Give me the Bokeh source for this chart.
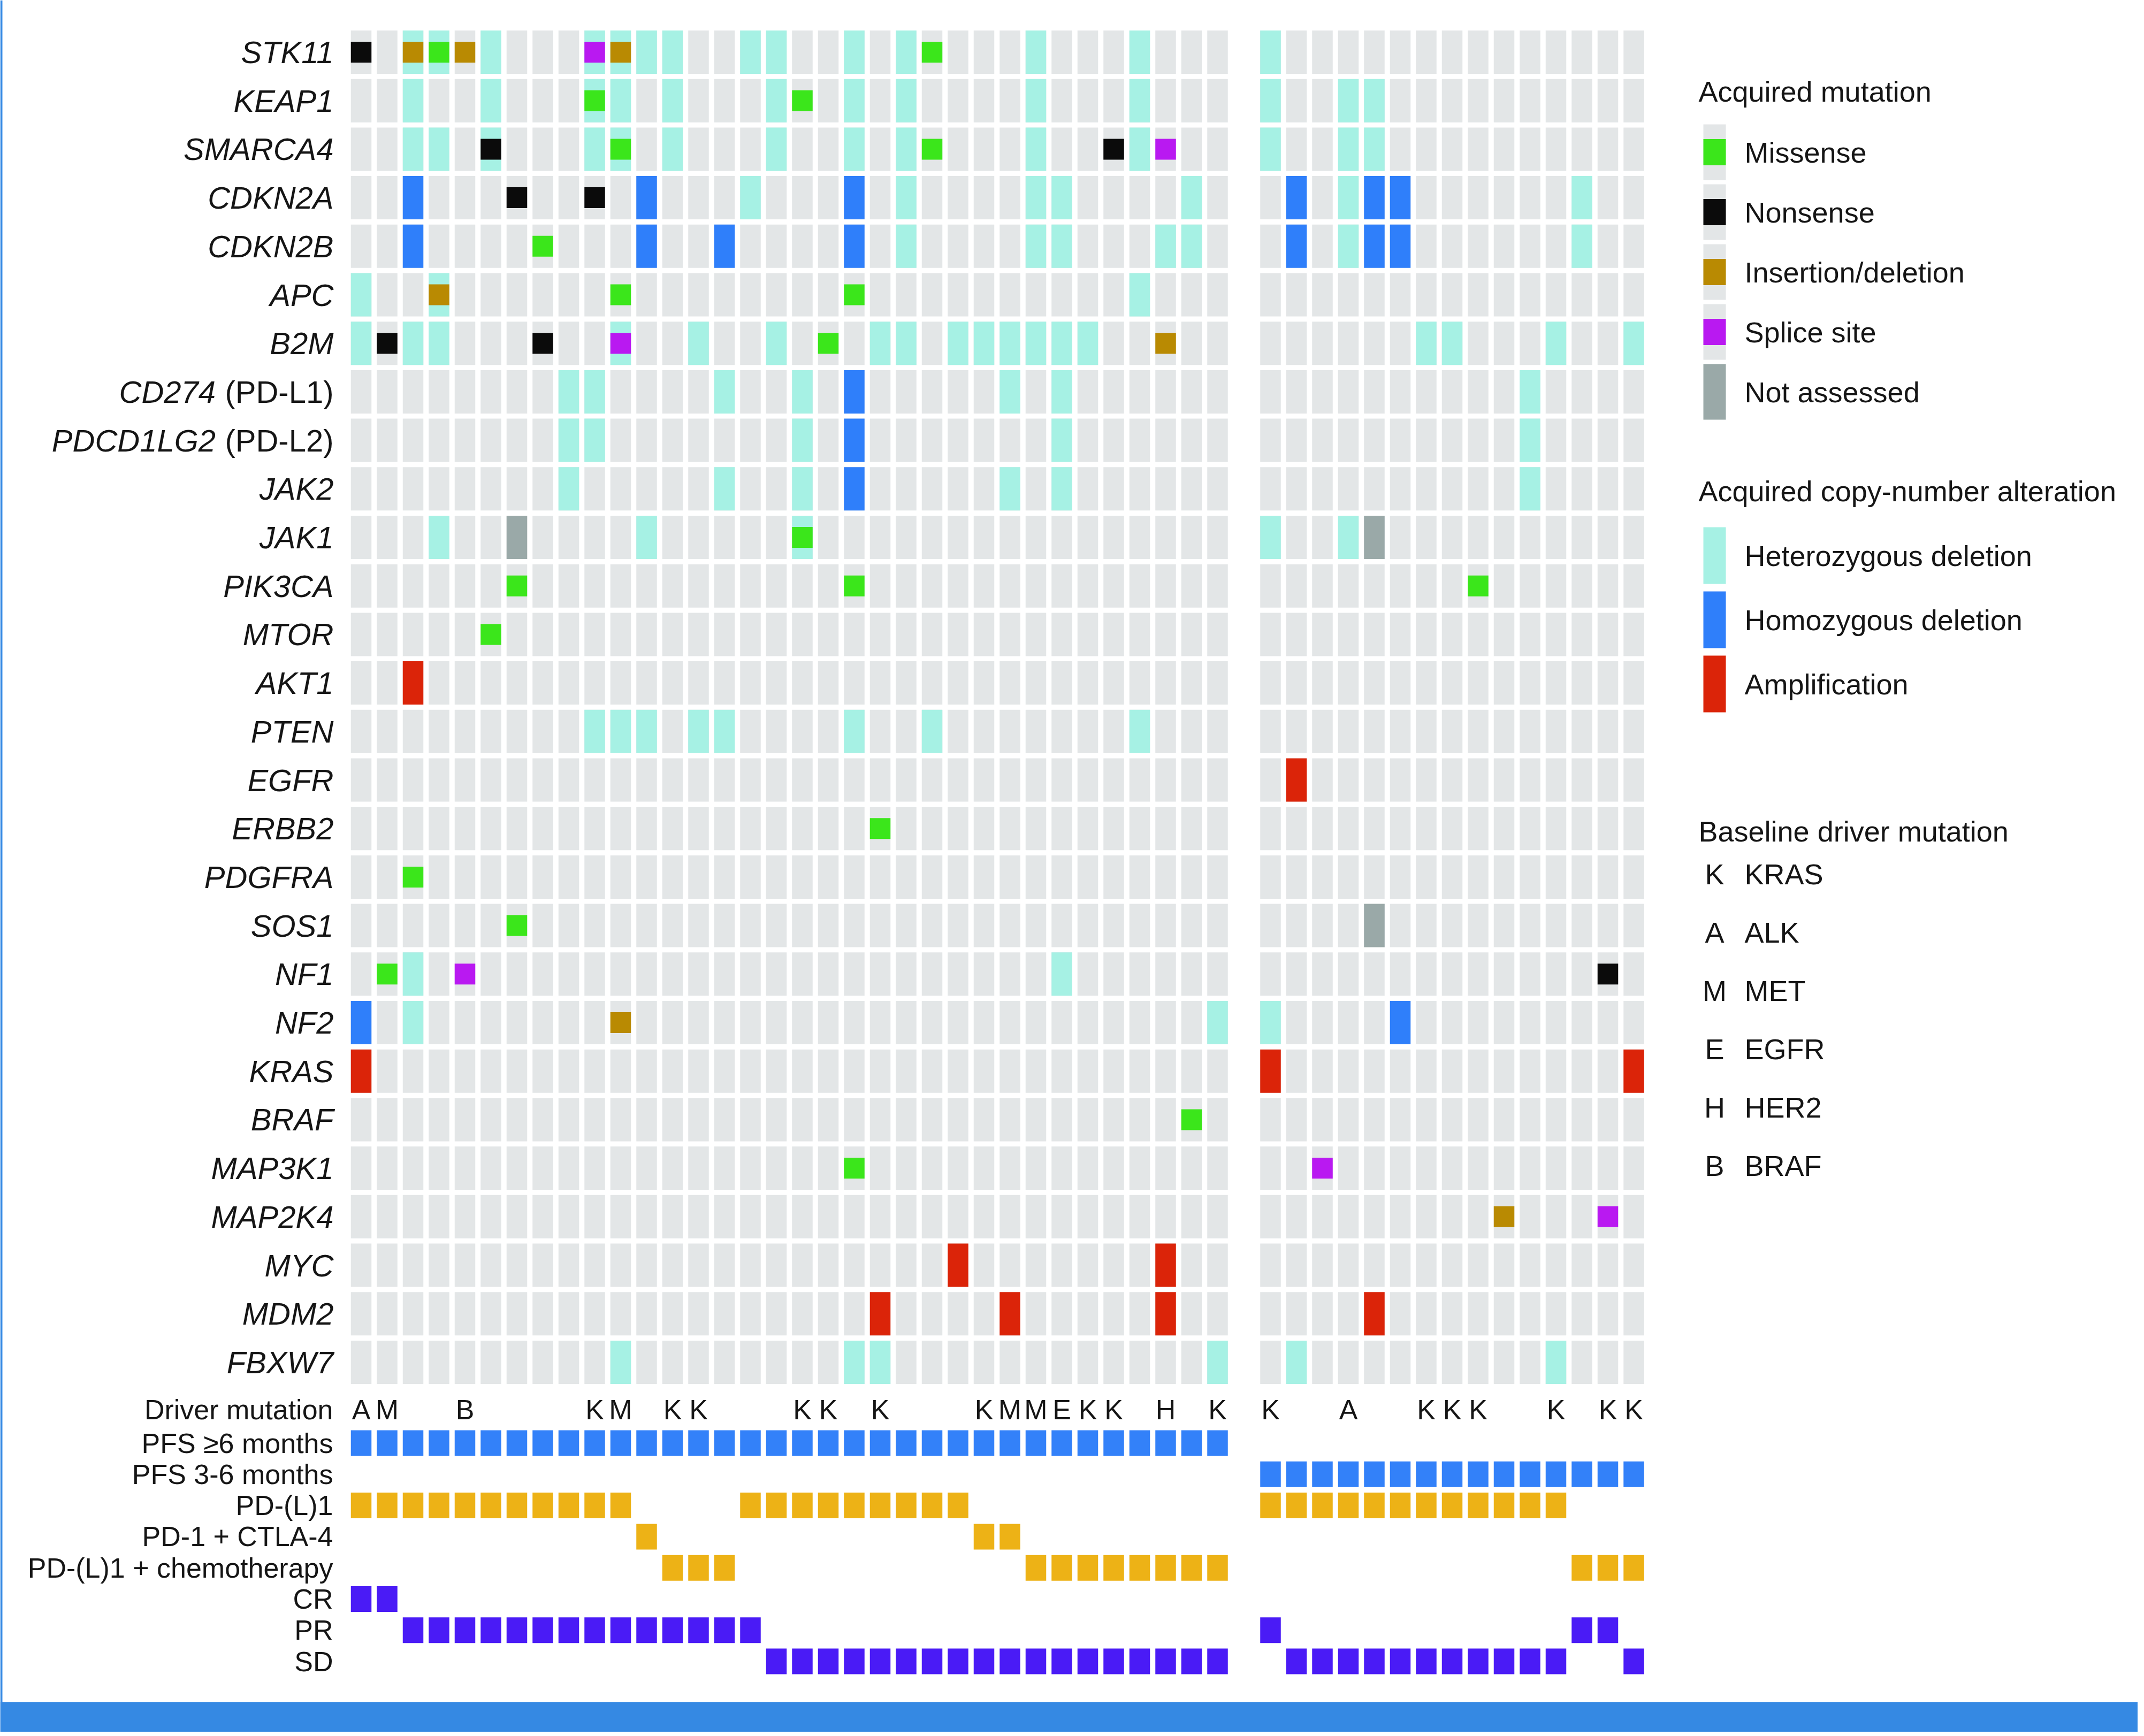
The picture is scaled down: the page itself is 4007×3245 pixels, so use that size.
from bokeh.plotting import figure
from bokeh.models import ColumnDataSource, Range1d
from bokeh.embed import file_html
from bokeh.resources import INLINE
from bokeh.core.properties import value

# ---------------- data ----------------
GENES = ["STK11", "KEAP1", "SMARCA4", "CDKN2A", "CDKN2B", "APC", "B2M", "CD274",
         "PDCD1LG2", "JAK2", "JAK1", "PIK3CA", "MTOR", "AKT1", "PTEN", "EGFR",
         "ERBB2", "PDGFRA", "SOS1", "NF1", "NF2", "KRAS", "BRAF", "MAP3K1",
         "MAP2K4", "MYC", "MDM2", "FBXW7"]
GENE_SUFFIX = {"CD274": "(PD-L1)", "PDCD1LG2": "(PD-L2)"}
N_G1 = 34
N_G2 = 15

# group 1 (PFS >= 6 months): column indices per gene
G1_HET = {"STK11": [2, 3, 5, 9, 10, 11, 12, 15, 16, 19, 21, 26, 30],
          "KEAP1": [2, 5, 9, 10, 12, 16, 19, 21, 26, 30],
          "SMARCA4": [2, 3, 5, 9, 10, 12, 16, 19, 21, 26, 30],
          "CDKN2A": [15, 21, 26, 27, 32],
          "CDKN2B": [21, 26, 27, 31, 32],
          "APC": [0, 3, 30],
          "B2M": [0, 2, 3, 10, 13, 16, 20, 21, 23, 24, 25, 26, 27, 28],
          "CD274": [8, 9, 14, 17, 25, 27],
          "PDCD1LG2": [8, 9, 17, 27],
          "JAK2": [8, 14, 17, 25, 27],
          "JAK1": [3, 11, 17],
          "PTEN": [9, 10, 11, 13, 14, 19, 22, 30],
          "NF1": [2, 27],
          "NF2": [2, 33],
          "FBXW7": [10, 19, 20, 33]}
G1_HOM = {"CDKN2A": [2, 11, 19], "CDKN2B": [2, 11, 14, 19], "CD274": [19],
          "PDCD1LG2": [19], "JAK2": [19], "NF2": [0]}
G1_AMP = {"AKT1": [2], "KRAS": [0], "MYC": [23, 31], "MDM2": [20, 25, 31]}
G1_NA = {"JAK1": [6]}
G1_MIS = {"STK11": [3, 22], "KEAP1": [9, 17], "SMARCA4": [10, 22], "CDKN2B": [7],
          "APC": [10, 19], "B2M": [18], "JAK1": [17], "PIK3CA": [6, 19], "MTOR": [5],
          "ERBB2": [20], "PDGFRA": [2], "SOS1": [6], "NF1": [1], "BRAF": [32],
          "MAP3K1": [19]}
G1_NON = {"STK11": [0], "SMARCA4": [5, 29], "CDKN2A": [6, 9], "B2M": [1, 7]}
G1_IND = {"STK11": [2, 4, 10], "APC": [3], "B2M": [31], "NF2": [10]}
G1_SPL = {"STK11": [9], "SMARCA4": [31], "B2M": [10], "NF1": [4]}

# group 2 (PFS 3-6 months)
G2_HET = {"STK11": [0], "KEAP1": [0, 3, 4], "SMARCA4": [0, 3, 4], "CDKN2A": [3, 12],
          "CDKN2B": [3, 12], "B2M": [6, 7, 11, 14], "CD274": [10], "PDCD1LG2": [10],
          "JAK2": [10], "JAK1": [0, 3], "NF2": [0], "FBXW7": [1, 11]}
G2_HOM = {"CDKN2A": [1, 4, 5], "CDKN2B": [1, 4, 5], "NF2": [5]}
G2_AMP = {"EGFR": [1], "KRAS": [0, 14], "MDM2": [4]}
G2_NA = {"JAK1": [4], "SOS1": [4]}
G2_MIS = {"PIK3CA": [8]}
G2_NON = {"NF1": [13]}
G2_IND = {"MAP2K4": [9]}
G2_SPL = {"MAP3K1": [2], "MAP2K4": [13]}

DRIVER_G1 = ["A", "M", "", "", "B", "", "", "", "", "K", "M", "", "K", "K", "", "", "",
             "K", "K", "", "K", "", "", "", "K", "M", "M", "E", "K", "K", "", "H", "", "K"]
DRIVER_G2 = ["K", "", "", "A", "", "", "K", "K", "K", "", "", "K", "", "K", "K"]

ANN_LABELS = ["PFS \u22656 months", "PFS 3-6 months", "PD-(L)1", "PD-1 + CTLA-4",
              "PD-(L)1 + chemotherapy", "CR", "PR", "SD"]
PFS_G1 = "LLLLLLLLLLLLLLLLLLLLLLLLLLLLLLLLLL"
PFS_G2 = "MMMMMMMMMMMMMMM"
TREAT_G1 = "PPPPPPPPPPP" "C" "XXX" "PPPPPPPPP" "CC" "XXXXXXXX"
TREAT_G2 = "PPPPPPPPPPPP" "XXX"
RESP_G1 = "CC" "PPPPPPPPPPPPPP" "SSSSSSSSSSSSSSSSSS"
RESP_G2 = "P" "SSSSSSSSSSS" "PP" "S"

LEG_MUT = ["Missense", "Nonsense", "Insertion/deletion", "Splice site", "Not assessed"]
LEG_CNA = ["Heterozygous deletion", "Homozygous deletion", "Amplification"]
LEG_DRV = [("K", "KRAS"), ("A", "ALK"), ("M", "MET"), ("E", "EGFR"), ("H", "HER2"), ("B", "BRAF")]

# ---------------- style / layout ----------------
C_GRAY = "#e3e6e7"
C_HET = "#a6f1e4"
C_HOM = "#2f7ffa"
C_AMP = "#db2409"
C_NA = "#9aa9a8"
C_MIS = "#3be61b"
C_NON = "#0b0b0b"
C_IND = "#b98a02"
C_SPL = "#b919f1"
C_PFS = "#3381f9"
C_TRT = "#edb216"
C_RSP = "#4a1bf6"
C_BAR = "#3589e3"
TXT = "#151515"
FONT = "Liberation Sans"

W, H = 3995, 3237
X0 = [674.5, 2374.0]
PX, CW = 48.5, 38.5
Y0, PY, CH, MH = 97.0, 90.7, 81.0, 39.0
LABEL_X = 623
DRV_Y = 2634
ANN_Y0, ANN_PY, ANN_H = 2697, 58.3, 48
GENE_FS, ANN_FS, LEG_FS = 58, 52, 54

p = figure(width=W, height=H, x_range=Range1d(0, W), y_range=Range1d(H, 0),
           output_backend="svg", toolbar_location=None, min_border=0,
           x_axis_location=None, y_axis_location=None)
p.grid.visible = False
p.outline_line_color = None
p.background_fill_color = "white"
p.border_fill_color = "white"


def add_quads(xs, ys, w, h, color):
    src = ColumnDataSource(dict(left=[x - w / 2 for x in xs], right=[x + w / 2 for x in xs],
                                top=[y - h / 2 for y in ys], bottom=[y + h / 2 for y in ys]))
    p.quad(left="left", right="right", top="top", bottom="bottom", source=src,
           fill_color=color, line_color=None)


def cells(groups, h, color):
    xs, ys = [], []
    for g, d in groups:
        for gene, cols in d.items():
            r = GENES.index(gene)
            for c in cols:
                xs.append(X0[g] + c * PX)
                ys.append(Y0 + r * PY)
    add_quads(xs, ys, CW, h, color)


# background grid
bx, by = [], []
for g, n in ((0, N_G1), (1, N_G2)):
    for r in range(len(GENES)):
        for c in range(n):
            bx.append(X0[g] + c * PX)
            by.append(Y0 + r * PY)
add_quads(bx, by, CW, CH, C_GRAY)

cells([(0, G1_HET), (1, G2_HET)], CH, C_HET)
cells([(0, G1_HOM), (1, G2_HOM)], CH, C_HOM)
cells([(0, G1_AMP), (1, G2_AMP)], CH, C_AMP)
cells([(0, G1_NA), (1, G2_NA)], CH, C_NA)
cells([(0, G1_MIS), (1, G2_MIS)], MH, C_MIS)
cells([(0, G1_NON), (1, G2_NON)], MH, C_NON)
cells([(0, G1_IND), (1, G2_IND)], MH, C_IND)
cells([(0, G1_SPL), (1, G2_SPL)], MH, C_SPL)

# gene labels (italic gene symbol + upright suffix)
CHAR_EM = {"(": 0.333, ")": 0.333, "P": 0.667, "D": 0.722, "-": 0.333,
           "L": 0.556, "1": 0.556, "2": 0.556}
SPACE_EM = 0.30
gx, gy, gt = [], [], []
sx, sy, st = [], [], []
for r, gene in enumerate(GENES):
    y = Y0 + r * PY
    suf = GENE_SUFFIX.get(gene, "")
    sw = (sum(CHAR_EM[ch] for ch in suf) + SPACE_EM) * GENE_FS if suf else 0
    gx.append(LABEL_X - sw)
    gy.append(y)
    gt.append(gene)
    if suf:
        sx.append(LABEL_X)
        sy.append(y)
        st.append(suf)
p.text(x="x", y="y", text="t", source=ColumnDataSource(dict(x=gx, y=gy, t=gt)),
       text_font=value(FONT), text_font_size=f"{GENE_FS}px", text_font_style="italic",
       text_align="right", text_baseline="middle", text_color=TXT)
p.text(x="x", y="y", text="t", source=ColumnDataSource(dict(x=sx, y=sy, t=st)),
       text_font=value(FONT), text_font_size=f"{GENE_FS}px",
       text_align="right", text_baseline="middle", text_color=TXT)

# driver letters
dx, dy, dt = [], [], []
for g, drv in ((0, DRIVER_G1), (1, DRIVER_G2)):
    for c, lab in enumerate(drv):
        if lab:
            dx.append(X0[g] + c * PX)
            dy.append(DRV_Y)
            dt.append(lab)
p.text(x="x", y="y", text="t", source=ColumnDataSource(dict(x=dx, y=dy, t=dt)),
       text_font=value(FONT), text_font_size=f"{ANN_FS}px",
       text_align="center", text_baseline="middle", text_color=TXT)

# annotation blocks
ROW_OF = {"pfs": {"L": 0, "M": 1}, "trt": {"P": 2, "C": 3, "X": 4}, "rsp": {"C": 5, "P": 6, "S": 7}}
for key, seqs, color in (("pfs", (PFS_G1, PFS_G2), C_PFS),
                         ("trt", (TREAT_G1, TREAT_G2), C_TRT),
                         ("rsp", (RESP_G1, RESP_G2), C_RSP)):
    xs, ys = [], []
    for g, seq in enumerate(seqs):
        for c, code in enumerate(seq):
            xs.append(X0[g] + c * PX)
            ys.append(ANN_Y0 + ROW_OF[key][code] * ANN_PY)
    add_quads(xs, ys, CW, ANN_H, color)

lab_y = [DRV_Y] + [ANN_Y0 + i * ANN_PY for i in range(len(ANN_LABELS))]
lab_t = ["Driver mutation"] + ANN_LABELS
p.text(x="x", y="y", text="t",
       source=ColumnDataSource(dict(x=[LABEL_X - 1] * len(lab_t), y=lab_y, t=lab_t)),
       text_font=value(FONT), text_font_size=f"{ANN_FS}px",
       text_align="right", text_baseline="middle", text_color=TXT)

# legend
LEG_TITLE_X, LEG_SW_X, LEG_TXT_X, SW_W = 3174, 3204, 3260, 42
titles = [("Acquired mutation", 170), ("Acquired copy-number alteration", 917),
          ("Baseline driver mutation", 1553)]
p.text(x="x", y="y", text="t",
       source=ColumnDataSource(dict(x=[LEG_TITLE_X] * 3, y=[t[1] for t in titles],
                                    t=[t[0] for t in titles])),
       text_font=value(FONT), text_font_size=f"{LEG_FS}px",
       text_align="left", text_baseline="middle", text_color=TXT)

mut_y = [284 + 112 * i for i in range(len(LEG_MUT))]
mut_cols = [C_MIS, C_NON, C_IND, C_SPL]
add_quads([LEG_SW_X] * 4, mut_y[:4], SW_W, 104, C_GRAY)
for yy, col in zip(mut_y[:4], mut_cols):
    add_quads([LEG_SW_X], [yy], SW_W, 49, col)
add_quads([LEG_SW_X], [mut_y[4]], SW_W, 104, C_NA)

cna_y = [1038 + 120 * i for i in range(len(LEG_CNA))]
for yy, col in zip(cna_y, [C_HET, C_HOM, C_AMP]):
    add_quads([LEG_SW_X], [yy], SW_W, 106, col)

drv_y = [1633 + 109 * i for i in range(len(LEG_DRV))]
p.text(x="x", y="y", text="t",
       source=ColumnDataSource(dict(x=[LEG_TXT_X] * (len(LEG_MUT) + len(LEG_CNA) + len(LEG_DRV)),
                                    y=mut_y + cna_y + drv_y,
                                    t=LEG_MUT + LEG_CNA + [d[1] for d in LEG_DRV])),
       text_font=value(FONT), text_font_size=f"{LEG_FS}px",
       text_align="left", text_baseline="middle", text_color=TXT)
p.text(x="x", y="y", text="t",
       source=ColumnDataSource(dict(x=[LEG_SW_X] * len(LEG_DRV), y=drv_y,
                                    t=[d[0] for d in LEG_DRV])),
       text_font=value(FONT), text_font_size=f"{LEG_FS}px",
       text_align="center", text_baseline="middle", text_color=TXT)

# frame: bottom band and thin left edge
p.quad(left=[0], right=[W], top=[3181], bottom=[H], fill_color=C_BAR, line_color=None)
p.quad(left=[0], right=[4], top=[0], bottom=[H], fill_color=C_BAR, line_color=None)

open("out.html", "w").write(file_html(p, INLINE))
